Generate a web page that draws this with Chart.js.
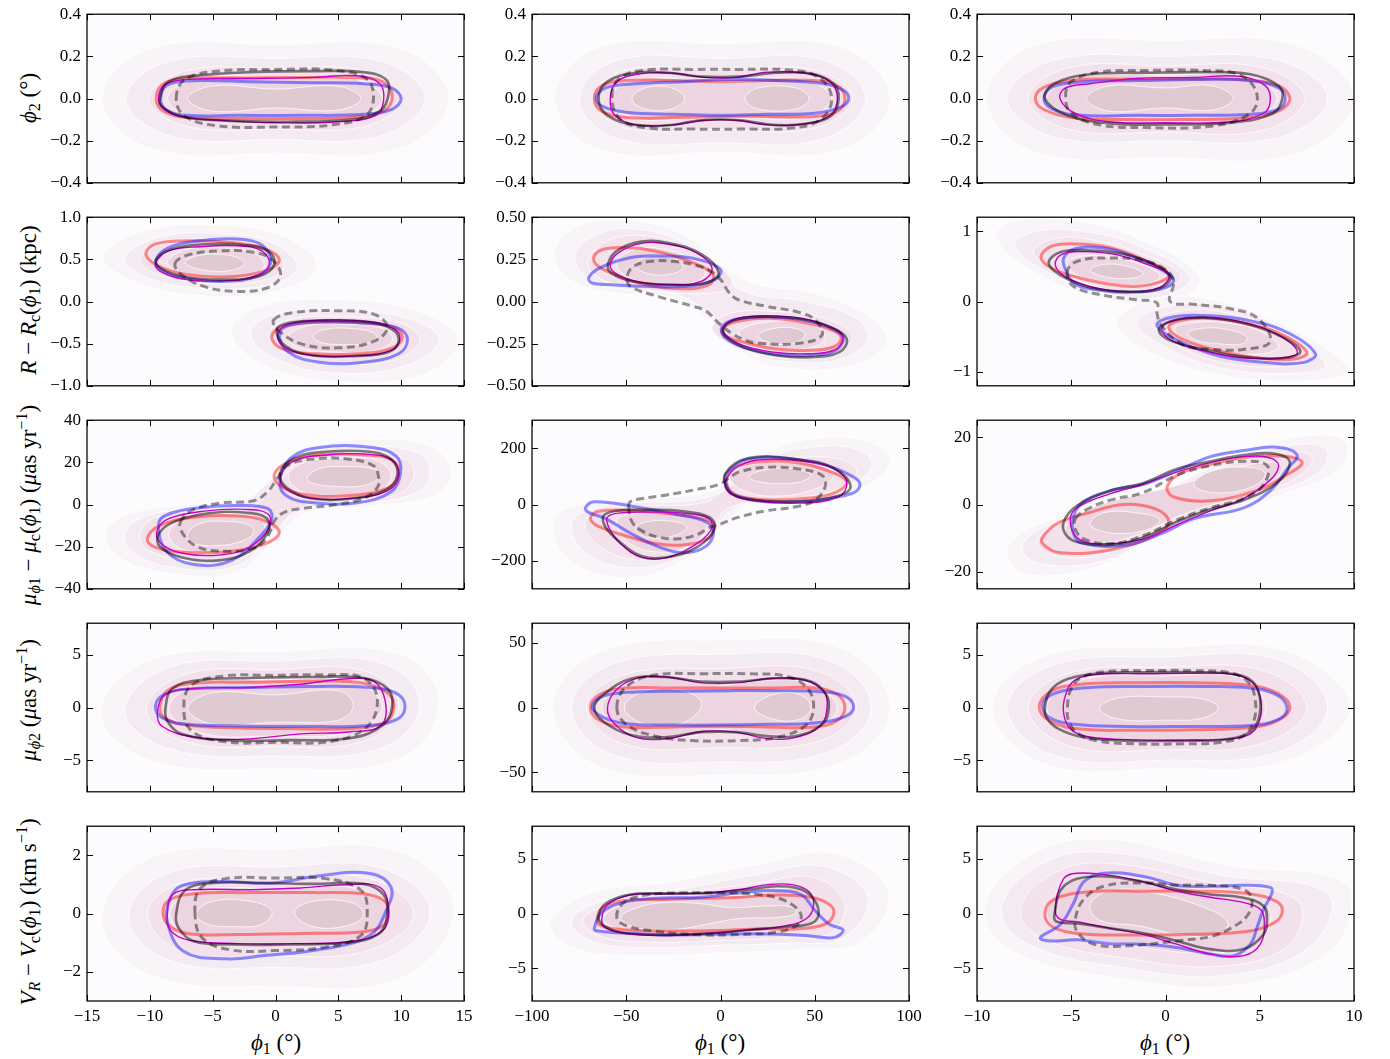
<!DOCTYPE html>
<html>
<head>
<meta charset="utf-8">
<script src="https://cdn.jsdelivr.net/npm/chart.js@4.4.0/dist/chart.umd.min.js"></script>
<style>
  body { margin: 0; width: 1390px; height: 1059px; position: relative; overflow: hidden; background: #fff;
         font-family: 'Liberation Serif', 'DejaVu Serif', serif; color: #000; }
  canvas { position: absolute; }
  .lab { position: absolute; font-size: 23px; white-space: nowrap; line-height: 1; }
  .ylab { transform: translate(-50%, -50%) rotate(-90deg); }
  .xlab { transform: translate(-50%, -50%); }
  .ann { position: absolute; font-size: 18px; white-space: nowrap; line-height: 1; transform: translateY(-50%); }
  sub, sup { font-size: 70%; line-height: 0; }
  sub { vertical-align: -0.3em; }
  sup { vertical-align: 0.55em; }
</style>
</head>
<body>

<div class="lab ylab" style="left:28px;top:98px"><i>ϕ</i><sub>2</sub> (°)</div>
<div class="lab ylab" style="left:28px;top:300px"><i>R</i> − <i>R</i><sub>c</sub>(<i>ϕ</i><sub>1</sub>) (kpc)</div>
<div class="lab ylab" style="left:28px;top:505px"><i>μ</i><sub><i>ϕ</i>1</sub> − <i>μ</i><sub>c</sub>(<i>ϕ</i><sub>1</sub>) (<i>μ</i>as yr<sup>−1</sup>)</div>
<div class="lab ylab" style="left:28px;top:700px"><i>μ</i><sub><i>ϕ</i>2</sub> (<i>μ</i>as yr<sup>−1</sup>)</div>
<div class="lab ylab" style="left:28px;top:912px"><i>V<sub>R</sub></i> − <i>V</i><sub>c</sub>(<i>ϕ</i><sub>1</sub>) (km s<sup>−1</sup>)</div>

<div class="lab xlab" style="left:276px;top:1042px"><i>ϕ</i><sub>1</sub> (°)</div>
<div class="lab xlab" style="left:720px;top:1042px"><i>ϕ</i><sub>1</sub> (°)</div>
<div class="lab xlab" style="left:1165px;top:1042px"><i>ϕ</i><sub>1</sub> (°)</div>

<div class="ann" style="left:106px;top:28px"><i>e</i> = 0</div>
<div class="ann" style="right:945px;top:28px">in-plane</div>
<div class="ann" style="left:551px;top:28px"><i>e</i> = 0.6 (pericenter)</div>
<div class="ann" style="right:500px;top:28px">in-plane</div>
<div class="ann" style="left:996px;top:28px"><i>e</i> = 0.6 (apocenter)</div>
<div class="ann" style="right:55px;top:28px">in-plane</div>

<script>
// ---- axis ticks ----
const xt_c1 = [-15, -10, -5, 0, 5, 10, 15];
const xt_c2 = [-100, -50, 0, 50, 100];
const xt_c3 = [-10, -5, 0, 5, 10];
const yt_r1 = [-0.4, -0.2, 0, 0.2, 0.4];
const yt_r2c1 = [-1, -0.5, 0, 0.5, 1];
const yt_r2c2 = [-0.5, -0.25, 0, 0.25, 0.5];
const yt_r2c3 = [-1, 0, 1];
const yt_r3c1 = [-40, -20, 0, 20, 40];
const yt_r3c2 = [-200, 0, 200];
const yt_r3c3 = [-20, 0, 20];
const yt_r4c1 = [-5, 0, 5];
const yt_r4c2 = [-50, 0, 50];
const yt_r4c3 = [-5, 0, 5];
const yt_r5c1 = [-2, 0, 2];
const yt_r5c2 = [-5, 0, 5];
const yt_r5c3 = [-5, 0, 5];

// ---- background density levels (outer -> inner), each level is a list of closed loops [x,y,x,y,...] ----
const bg_r1c1 = [
  [[-13.8,0, -10,0.235, 0,0.255, 10,0.235, 13.8,0, 10,-0.235, 0,-0.26, -10,-0.235]],
  [[-11.9,0, -8.5,0.175, 0,0.19, 8.5,0.175, 11.9,0, 8.5,-0.175, 0,-0.195, -8.5,-0.175]],
  [[-10.1,0, -7.2,0.13, 0,0.142, 7.2,0.13, 10.1,0, 7.2,-0.13, 0,-0.145, -7.2,-0.13]],
  [[-8.6,0, -6.2,0.095, 0,0.1, 6.2,0.095, 8.5,0, 6.2,-0.095, 0,-0.105, -6.2,-0.095]],
  [[-7,0, -5,0.06, 0,0.045, 5,0.058, 6.8,0, 5,-0.055, 0,-0.045, -5,-0.06]]
];
const bg_r2c1 = [
  [[-13.7,0.55, -10,0.85, -4,0.9, 1,0.75, 3.3,0.4, 0,0.12, -6,0.07, -11.5,0.25],
   [-3.5,-0.35, -1,-0.05, 5,0.02, 11,-0.1, 14.5,-0.45, 12,-0.85, 5,-0.95, -1,-0.75]],
  [[-12,0.52, -9,0.77, -4,0.8, 0,0.68, 1.7,0.4, -0.5,0.2, -6,0.16, -10.5,0.3],
   [-2,-0.38, 0,-0.15, 5,-0.1, 10.5,-0.2, 13,-0.45, 10.5,-0.75, 5,-0.85, 0,-0.68]],
  [[-10.8,0.5, -8.5,0.7, -4.5,0.73, -0.8,0.62, 0.7,0.42, -1,0.25, -5.5,0.22, -9.5,0.33],
   [-0.6,-0.4, 1,-0.22, 5,-0.18, 10,-0.26, 11.5,-0.45, 9.7,-0.68, 5,-0.74, 1,-0.62]],
  [[-8.6,0.48, -7,0.62, -4.5,0.64, -1.8,0.58, -0.9,0.42, -2.2,0.3, -5,0.28, -7.8,0.36],
   [1,-0.42, 2.5,-0.29, 5.5,-0.27, 8.5,-0.32, 9.3,-0.45, 8,-0.58, 5,-0.6, 2,-0.55]],
  [[-7.2,0.47, -6,0.55, -4.5,0.56, -3,0.52, -2.5,0.44, -3.5,0.37, -5,0.36, -6.5,0.4],
   [3,-0.41, 4,-0.33, 6,-0.32, 7.8,-0.37, 8,-0.44, 7,-0.5, 5,-0.51, 3.5,-0.48]]
];
const bg_r3c1 = [
  [[-13.5,-14, -12,-5, -7,0, -2.5,3, 0,13, 3,27, 8,31, 12.5,27, 14,15, 12.5,4, 7,-1, 2.5,-4, 0,-16, -3,-32, -8,-33, -12.5,-25]],
  [[-12,-14, -10.5,-6, -6.5,-1.5, -2.5,1, -0.7,10, 2.5,24, 7.5,27.5, 11.5,24, 12.3,14, 11,5, 6.5,0.5, 2,-3, -0.3,-14, -3,-29, -8,-30, -11.3,-23]],
  [[-10.8,-14, -9.5,-6, -6,-3, -2,-1.5, -0.2,8, 2.5,22, 7.5,24.5, 10.5,21, 11,13, 9.8,5, 6,1.5, 2,-1.5, 0,-12, -3,-25.5, -7.5,-26, -10.3,-21]],
  [[-8.5,-14, -7.3,-7, -4.5,-4.5, -1.8,-5.5, -0.8,-12, -2,-20, -4.5,-23, -7.5,-21],
   [1,13, 2.3,20, 5,22, 8,21, 9.2,14, 8.2,6, 5.5,3.5, 2.5,5]],
  [[-7,-14, -6,-9, -4,-8, -2,-10, -1.8,-14, -3,-18, -5,-19.5, -6.7,-18],
   [2.5,12.5, 3.5,17, 5.5,18, 8,16.5, 8.2,12.5, 7,9, 5,8.5, 3,10]]
];
const bg_r4c1 = [
  [[-13.9,-0.5, -10,4.5, 0,5.3, 10,5, 13,0.5, 10,-4.8, 0,-5.8, -10,-5]],
  [[-12,-0.3, -8.5,3.8, 0,4.4, 8.5,4.2, 11.5,0.3, 8.5,-3.8, 0,-4.6, -8.5,-3.9]],
  [[-10.3,-0.2, -7.3,3.1, 0,3.6, 7.3,3.4, 9.8,0.2, 7.3,-3.1, 0,-3.7, -7.3,-3.2]],
  [[-8.5,-0.1, -6,2.3, 0,2.6, 6,2.5, 8.5,0.1, 6,-2.3, 0,-2.7, -6,-2.4]],
  [[-7,-0.1, -5,1.4, 0,1.2, 5,1.6, 6.2,0.2, 5,-1.2, 0,-1.4, -5,-1.6]]
];
const bg_r5c1 = [
  [[-13.8,-0.2, -10,1.9, 0,2.2, 10,2.1, 14.2,0.1, 10,-2.2, 0,-2.5, -10,-2.1]],
  [[-11.7,-0.1, -8.5,1.4, 0,1.6, 8.5,1.55, 12.3,0.05, 8.5,-1.6, 0,-1.85, -8.5,-1.6]],
  [[-10.2,0, -7.5,1.05, 0,1.2, 7.5,1.2, 11,0, 7.5,-1.25, 0,-1.45, -7.5,-1.3]],
  [[-8.4,0, -6.3,0.78, 0,0.85, 6.5,0.85, 9,0, 6.5,-0.95, 0,-1.05, -6.3,-0.95]],
  [[-6.3,0, -5,0.42, -2,0.42, -0.3,0.1, -1,-0.35, -3,-0.45, -5.5,-0.35],
   [1.5,0.05, 3,0.42, 6,0.38, 7,0, 6,-0.38, 3,-0.45]]
];
const bg_r1c2 = [
  [[-88,0, -65,0.24, 0,0.26, 65,0.24, 90,0, 65,-0.24, 0,-0.255, -65,-0.24]],
  [[-75,0, -55,0.18, 0,0.19, 55,0.18, 77,0, 55,-0.19, 0,-0.21, -55,-0.19]],
  [[-68,0, -50,0.135, 0,0.135, 50,0.135, 70,0, 50,-0.14, 0,-0.145, -50,-0.14]],
  [[-59,0, -42,0.095, 0,0.075, 42,0.095, 59,0, 42,-0.095, 0,-0.075, -42,-0.1]],
  [[-47,0, -40,0.05, -26,0.05, -19,0, -26,-0.05, -40,-0.05],
   [13,0, 20,0.05, 40,0.05, 47,0, 40,-0.05, 20,-0.05]]
];
const bg_r2c2 = [
  [[-88,0.3, -75,0.45, -50,0.48, -20,0.4, 0,0.22, 20,0.1, 50,0.05, 80,-0.1, 88,-0.25, 70,-0.38, 40,-0.4, 15,-0.33, -5,-0.12, -25,0.02, -55,0.05, -80,0.13]],
  [[-77,0.28, -65,0.4, -45,0.43, -20,0.35, -2,0.17, 15,0.05, 45,0, 72,-0.1, 78,-0.23, 64,-0.34, 40,-0.36, 15,-0.3, -3,-0.1, -25,0.05, -55,0.08, -72,0.15]],
  [[-70,0.25, -60,0.36, -40,0.39, -20,0.33, 0,0.2, 6,0.1, -5,0.05, -30,0.06, -55,0.1, -68,0.17],
   [-4.5,-0.15, 5,-0.07, 30,-0.06, 55,-0.1, 70,-0.2, 62,-0.3, 40,-0.34, 15,-0.3, 0,-0.22]],
  [[-55,0.23, -45,0.31, -30,0.31, -15,0.25, -8,0.17, -15,0.11, -35,0.1, -50,0.15],
   [10,-0.18, 20,-0.13, 40,-0.12, 53,-0.16, 55,-0.23, 45,-0.28, 25,-0.28, 13,-0.24]],
  [[-45,0.22, -37,0.27, -25,0.26, -20,0.2, -28,0.16, -40,0.17],
   [20,-0.2, 28,-0.16, 40,-0.16, 45,-0.2, 38,-0.25, 25,-0.24]]
];
const bg_r3c2 = [
  [[-89,-70, -80,-10, -50,15, -20,30, 0,60, 20,170, 50,235, 80,220, 90,150, 75,60, 40,20, 15,0, 0,-80, -20,-200, -50,-260, -80,-200]],
  [[-79,-70, -70,-20, -45,5, -15,15, 3,55, 22,155, 50,205, 75,190, 80,130, 65,60, 35,20, 10,-5, -5,-90, -20,-185, -48,-225, -72,-170]],
  [[-72,-65, -62,-20, -40,-5, -10,5, 2,50, 20,140, 50,170, 68,150, 72,110, 60,50, 30,15, 5,-10, -5,-85, -18,-165, -45,-195, -65,-145]],
  [[-55,-60, -48,-35, -30,-30, -12,-45, -7,-80, -15,-140, -30,-170, -48,-140],
   [5,100, 15,140, 35,150, 55,135, 60,100, 50,55, 30,30, 12,50]],
  [[-45,-80, -38,-60, -25,-60, -18,-80, -24,-110, -35,-120, -43,-105],
   [15,100, 25,125, 40,125, 48,105, 42,80, 28,75, 18,85]]
];
const bg_r4c2 = [
  [[-89,0, -65,42, 0,52, 65,45, 90,0, 65,-42, 0,-52, -65,-45]],
  [[-79,0, -58,33, 0,41, 58,36, 80,0, 58,-34, 0,-42, -58,-36]],
  [[-71,0, -52,25, 0,30, 52,28, 72,0, 52,-26, 0,-31, -52,-28]],
  [[-63,0, -45,21, -15,22, 0,17, 15,20, 45,19, 62,0, 45,-19, 15,-20, 0,-17, -15,-22, -45,-21]],
  [[-51,0, -40,13, -20,13, -10,3, -20,-12, -40,-13],
   [18,0, 28,10, 42,10, 48,0, 42,-9, 28,-9]]
];
const bg_r5c2 = [
  [[-90,-0.8, -70,1.8, -30,2.8, 20,4.5, 60,5.5, 89,2, 75,-2.5, 40,-3.3, 0,-3.6, -50,-3.8, -80,-3]],
  [[-79,-0.6, -60,1.3, -25,2.1, 20,3.6, 55,4.3, 78,1.5, 65,-2.2, 35,-2.7, 0,-2.9, -45,-3.1, -70,-2.4]],
  [[-73,-0.5, -55,1, -25,1.75, 20,2.8, 50,3.3, 66,0.8, 58,-1.8, 35,-2.2, 0,-2.45, -40,-2.6, -65,-2]],
  [[-62,-0.4, -50,0.95, -25,1.45, 15,1.7, 42,2.3, 52,0.5, 45,-1.2, 25,-1.4, 0,-1.75, -35,-1.95, -55,-1.4]],
  [[-53,-0.4, -45,0.5, -30,1, -10,0.9, 5,0.55, 25,0.7, 38,0.6, 40,0, 30,-0.35, 10,-0.45, -5,-0.9, -25,-1.45, -45,-1.25]]
];
const bg_r1c3 = [
  [[-9.5,0, -7,0.25, 0,0.275, 7,0.25, 10,0, 7,-0.26, 0,-0.28, -7,-0.25]],
  [[-8.4,0, -6,0.18, 0,0.2, 6,0.18, 8.6,0, 6,-0.185, 0,-0.2, -6,-0.18]],
  [[-7.3,0, -5.2,0.145, 0,0.155, 5.2,0.145, 7.4,0, 5.2,-0.15, 0,-0.16, -5.2,-0.145]],
  [[-6.3,0, -4.5,0.105, 0,0.11, 4.3,0.105, 5.9,0, 4.3,-0.105, 0,-0.11, -4.5,-0.105]],
  [[-4.2,0, -3,0.06, 0,0.05, 2.5,0.06, 3.6,0, 2.5,-0.055, 0,-0.045, -3,-0.06]]
];
const bg_r2c3 = [
  [[-9,0.9, -8,1.15, -5,1.15, -1.5,0.9, 1.8,0.35, 0.5,0, -2.5,0, -6.5,0.35],
   [-2.6,-0.3, -1,0, 2,0.05, 6,-0.3, 9.7,-0.95, 8,-1.12, 3,-1.05, -1,-0.7]],
  [[-8,0.8, -6.8,1, -4.5,1, -1.5,0.8, 1.3,0.35, 0,0.08, -2.5,0.08, -6,0.38],
   [-1.5,-0.3, 0,-0.08, 2.5,-0.05, 6,-0.35, 8.5,-0.9, 7,-1.02, 3,-0.95, 0,-0.65]],
  [[-7,0.7, -5.8,0.9, -4,0.88, -1.5,0.7, 0.8,0.38, -0.2,0.15, -2.5,0.14, -5.3,0.38],
   [-0.7,-0.3, 0.5,-0.15, 2.5,-0.13, 5.5,-0.35, 7.8,-0.8, 6.5,-0.92, 3,-0.87, 0.5,-0.6]],
  [[-5.2,0.55, -4.3,0.65, -2.7,0.62, -1,0.5, -0.3,0.35, -1.2,0.24, -3,0.26, -4.7,0.38],
   [0.5,-0.38, 1.5,-0.3, 3,-0.3, 5,-0.42, 6,-0.65, 4.8,-0.75, 2.5,-0.7, 1,-0.55]],
  [[-4,0.45, -3.2,0.53, -2,0.5, -1.2,0.4, -1.8,0.33, -3.2,0.35],
   [1.2,-0.45, 2,-0.38, 3.3,-0.4, 4.3,-0.5, 4.1,-0.6, 2.8,-0.6, 1.6,-0.55]]
];
const bg_r3c3 = [
  [[-8.4,-14, -7.5,-8, -4,-1, 0,5, 3.5,14, 7,20, 9.5,19, 9.3,11, 6.5,3.5, 3,-2.5, -0.5,-10, -4,-19, -7.5,-20.5]],
  [[-7.6,-13, -6.6,-7, -3.8,-2, -0.5,3.5, 3,12, 6.5,17.5, 8.5,16.5, 8.2,10, 5.5,3, 2.5,-2.5, -0.5,-9.5, -3.5,-17, -6.7,-17.5]],
  [[-6.8,-11, -5.8,-6, -3.3,-1, 0,4.5, 3.5,12, 6.3,15.5, 7.8,14, 7,8, 4.5,2.5, 2,-2.5, -1,-9.5, -3.5,-15, -6,-15]],
  [[-5.3,-7, -4.5,-2.5, -2.5,1.5, 0.5,5.5, 3.5,10.5, 5.5,12.5, 6.2,11, 5.5,6.5, 3.5,1.8, 1,-2.8, -1.5,-9, -3.5,-11.5, -5,-10.5]],
  [[-4,-6, -3.3,-2.5, -1.5,-2.5, -0.3,-4.5, -1,-7.5, -2.8,-8.5],
   [1.5,6, 2.5,10, 4.5,11, 5.3,9, 4.5,5, 2.5,3.5]]
];
const bg_r4c3 = [
  [[-9.2,0, -6.5,4.8, 0,5.7, 6.5,5.3, 9.8,0, 6.5,-5, 0,-5.8, -6.5,-5.3]],
  [[-8.4,0, -6,4, 0,4.8, 6,4.5, 8.6,0, 6,-4.2, 0,-5, -6,-4.5]],
  [[-7.3,0, -5.2,3.2, 0,3.8, 5.2,3.5, 7.5,0, 5.2,-3.4, 0,-4, -5.2,-3.6]],
  [[-6.3,0, -4.5,2.6, 0,3, 4,2.8, 5.3,0, 4,-2.7, 0,-3.1, -4.5,-2.8]],
  [[-3.5,-0.1, -2.5,0.9, 0,1, 2,0.8, 2.8,0, 2,-1, 0,-1.2, -2.5,-1.1]]
];
const bg_r5c3 = [
  [[-9.6,0.5, -7,5.5, -3,6.8, 3,4.5, 9.8,2.5, 9,-3, 4,-6.5, -2,-6, -8,-3.5]],
  [[-8.7,0.5, -6.5,4.6, -3,5.6, 3,3.5, 8.6,1.8, 7.8,-2.8, 3.5,-5.6, -2,-5, -7.3,-2.8]],
  [[-7.7,0.4, -5.8,3.8, -3,4.6, 2.5,2.8, 7,1.2, 6.6,-2.8, 3,-4.8, -2,-4.1, -6.5,-2.3]],
  [[-6.3,0.3, -5,3, -2.5,3.4, 2,2.1, 5.4,0.6, 5,-2.5, 2.5,-3.6, -2,-2.9, -5.5,-1.6]],
  [[-4,0.8, -3,2.1, -1,2, 2,0.6, 3.3,-0.8, 2.8,-1.9, 1,-2, -1.5,-1.1, -3.5,-0.6]]
];

// ---- model contours (each a list of closed loops) ----
// row 1: phi2
const red_r1c1 = [[-9.5,0, -8.9,0.07, -7,0.095, -3,0.097, 2,0.1, 6,0.1, 8.5,0.08, 9.3,0.01, 8.6,-0.06, 6,-0.09, 2,-0.095, -3,-0.095, -7,-0.09, -8.9,-0.06]];
const blue_r1c1 = [[-9.1,0.02, -8.4,0.07, -6,0.085, -2,0.08, 3,0.075, 7,0.07, 9.2,0.05, 10,0, 9.3,-0.05, 7,-0.075, 2,-0.08, -3,-0.08, -7,-0.08, -8.8,-0.05]];
const mag_r1c1 = [[-9.3,0.01, -8.7,0.07, -6.5,0.092, -2,0.095, 3,0.1, 6.5,0.108, 8.3,0.07, 8.6,-0.01, 8,-0.08, 5,-0.11, 0,-0.115, -4,-0.105, -7.5,-0.085, -9,-0.04]];
const blk_r1c1 = [[-9.2,0, -8.5,0.08, -6,0.11, -2,0.125, 3,0.13, 7,0.125, 8.8,0.09, 9,0.02, 8.3,-0.06, 6,-0.1, 1,-0.11, -4,-0.105, -7.5,-0.085, -9,-0.04]];
const dash_r1c1 = [[-7.9,0, -7.2,0.09, -4.5,0.13, 0,0.138, 4.5,0.135, 7.2,0.095, 7.8,0.01, 7.2,-0.08, 4.5,-0.125, 0,-0.135, -4.5,-0.13, -7.2,-0.085]];

const red_r1c2 = [[-67,0, -63,0.06, -50,0.085, -25,0.085, 0,0.08, 25,0.085, 50,0.085, 62,0.06, 66,0, 62,-0.06, 50,-0.085, 25,-0.085, 0,-0.085, -25,-0.09, -50,-0.09, -63,-0.06]];
const blue_r1c2 = [[-66,0, -61,0.05, -45,0.07, -20,0.08, 5,0.09, 30,0.085, 55,0.07, 65,0.04, 68,0, 64,-0.04, 50,-0.07, 25,-0.075, 0,-0.08, -25,-0.075, -50,-0.065, -62,-0.04]];
const mag_r1c2 = [[-58.5,0, -55,0.08, -42,0.118, -25,0.12, -8,0.1, 8,0.1, 25,0.125, 45,0.12, 58,0.08, 62,0, 58,-0.08, 45,-0.12, 25,-0.125, 8,-0.103, -8,-0.103, -25,-0.125, -45,-0.125, -56,-0.08]];
const blk_r1c2 = [[-64.7,0, -60,0.08, -45,0.122, -28,0.122, -10,0.104, 10,0.104, 30,0.122, 48,0.118, 60,0.07, 62.7,0, 59,-0.08, 45,-0.12, 28,-0.125, 10,-0.103, -10,-0.103, -28,-0.127, -45,-0.125, -60,-0.08]];
const dash_r1c2 = [[-57.6,0.01, -53,0.1, -38,0.136, -15,0.138, 10,0.138, 35,0.136, 52,0.1, 59,0, 53,-0.1, 38,-0.14, 10,-0.145, -15,-0.145, -38,-0.14, -53,-0.1]];

const red_r1c3 = [[-6.9,0, -6.5,0.05, -5,0.085, -2,0.092, 1,0.092, 4,0.09, 6,0.06, 6.6,0, 6.1,-0.055, 4.5,-0.09, 1,-0.1, -2,-0.1, -5,-0.09, -6.5,-0.05]];
const blue_r1c3 = [[-6.45,0, -6,0.055, -4.5,0.078, -1.5,0.085, 1.5,0.09, 4.5,0.085, 6,0.05, 6.35,0, 6,-0.05, 4.5,-0.075, 1.5,-0.08, -1.5,-0.08, -4.5,-0.08, -6,-0.05]];
const mag_r1c3 = [[-5.6,0, -5.3,0.05, -4,0.07, -1.5,0.095, 1.5,0.1, 4,0.105, 5.3,0.06, 5.56,-0.01, 5.2,-0.07, 3.5,-0.11, 0,-0.115, -3,-0.11, -4.8,-0.07]];
const blk_r1c3 = [[-6.4,0, -5.9,0.07, -4,0.115, -1,0.122, 2,0.125, 4.5,0.115, 6,0.06, 6.2,0, 5.7,-0.07, 3.5,-0.115, 0,-0.123, -3,-0.118, -5.2,-0.08]];
const dash_r1c3 = [[-5.3,0.01, -5,0.08, -3.5,0.125, -1,0.133, 2,0.133, 4,0.11, 4.85,0.02, 4.5,-0.07, 2.5,-0.13, -1,-0.138, -3.5,-0.125, -5,-0.07]];

// row 2: R - Rc
const red_r2c1 = [[-10.3,0.55, -9.6,0.68, -7,0.72, -3.5,0.7, -0.8,0.62, 0.3,0.5, -0.5,0.38, -3,0.3, -6.5,0.31, -9,0.4],
                  [-0.3,-0.42, 0.5,-0.3, 3,-0.25, 6.5,-0.25, 9.3,-0.3, 10.1,-0.42, 9.3,-0.55, 6.5,-0.62, 3,-0.62, 0.5,-0.56]];
const blue_r2c1 = [[-9.55,0.48, -8.5,0.64, -6,0.72, -3,0.74, -1,0.66, -0.4,0.45, -1.5,0.3, -4,0.24, -7,0.27, -9,0.36],
                   [0.3,-0.38, 1.2,-0.28, 4,-0.24, 7.5,-0.26, 9.8,-0.32, 10.5,-0.45, 9.8,-0.62, 7,-0.72, 3.5,-0.72, 1,-0.6]];
const mag_r2c1 = [[-9.55,0.45, -8.5,0.6, -6,0.65, -3,0.66, -1.1,0.6, -0.5,0.44, -1.6,0.3, -4.5,0.24, -7.5,0.27, -9.2,0.36],
                  [0.15,-0.4, 1,-0.27, 4,-0.22, 7.5,-0.24, 9.4,-0.32, 9.9,-0.45, 9.2,-0.58, 6.5,-0.645, 3,-0.64, 0.8,-0.55]];
const blk_r2c1 = [[-9.5,0.5, -8.3,0.62, -5.5,0.68, -2.5,0.67, -0.6,0.6, -0.1,0.44, -1.3,0.3, -4.5,0.26, -7.5,0.3, -9.2,0.4],
                  [0.1,-0.33, 1.2,-0.25, 4,-0.225, 7.5,-0.245, 9.3,-0.33, 9.8,-0.47, 9,-0.6, 6.5,-0.645, 3,-0.64, 0.8,-0.53]];
const dash_r2c1 = [[-8,0.45, -7,0.55, -4.5,0.6, -2,0.59, -0.3,0.5, 0.4,0.3, -0.7,0.16, -3,0.12, -5.5,0.17, -7.5,0.32],
                   [-0.15,-0.22, 1.5,-0.13, 5,-0.11, 7.8,-0.15, 8.9,-0.3, 8,-0.46, 5,-0.55, 2,-0.5, 0.3,-0.35]];

const red_r2c2 = [[-67,0.27, -62,0.31, -50,0.32, -35,0.3, -17,0.24, -4,0.16, -6,0.1, -20,0.075, -40,0.1, -58,0.17, -66,0.22],
                  [1,-0.16, 8,-0.12, 25,-0.1, 42,-0.12, 57,-0.16, 64,-0.21, 60,-0.27, 45,-0.29, 28,-0.28, 12,-0.24, 2,-0.2]];
const blue_r2c2 = [[-70,0.14, -64,0.2, -48,0.26, -30,0.27, -12,0.25, 0,0.19, -3,0.13, -18,0.09, -40,0.09, -58,0.1, -68,0.11],
                   [0.8,-0.15, 8,-0.105, 25,-0.09, 42,-0.105, 57,-0.15, 65,-0.21, 61,-0.29, 45,-0.32, 28,-0.31, 12,-0.27, 2,-0.21]];
const mag_r2c2 = [[-58.5,0.22, -54,0.29, -42,0.345, -28,0.34, -13,0.29, -4.5,0.2, -10,0.12, -28,0.1, -45,0.12, -56,0.17],
                  [1.5,-0.15, 9,-0.1, 26,-0.085, 43,-0.1, 58,-0.15, 65,-0.21, 61,-0.285, 46,-0.31, 28,-0.3, 12,-0.26, 3,-0.2]];
const blk_r2c2 = [[-59.7,0.22, -55,0.3, -42,0.355, -27,0.345, -10,0.28, -1,0.17, -8,0.11, -28,0.1, -47,0.12, -58,0.17],
                  [1.7,-0.155, 9,-0.105, 26,-0.09, 44,-0.105, 59,-0.155, 67,-0.225, 63,-0.3, 48,-0.33, 30,-0.32, 13,-0.275, 3,-0.21]];
const dash_r2c2 = [[-49.6,0.13, -47,0.084, -32.8,0.029, -15.1,-0.027, -8,-0.054, -1,-0.128, 6.1,-0.19, 13.2,-0.23, 20.2,-0.248, 41.5,-0.248, 53.8,-0.2, 50.3,-0.11, 41.5,-0.064, 23.8,-0.027, 9.6,0.01, 4.3,0.056, 0.8,0.12, -4.5,0.176, -11.6,0.21, -24,0.237, -38.1,0.237, -47,0.2]];

const red_r2c3 = [[-6.6,0.62, -6.1,0.78, -4.8,0.82, -3,0.77, -1.2,0.6, 0.17,0.38, -0.8,0.24, -2.5,0.23, -4.5,0.33, -6,0.47],
                  [0.17,-0.37, 0.8,-0.27, 2.2,-0.24, 4,-0.3, 6,-0.45, 7.5,-0.72, 6.8,-0.82, 4.8,-0.8, 2.8,-0.7, 1,-0.55]];
const blue_r2c3 = [[-5.4,0.62, -4.8,0.75, -3.3,0.76, -1.8,0.65, -0.2,0.45, 0.43,0.3, -0.2,0.18, -1.8,0.13, -3.5,0.16, -4.8,0.25, -5.3,0.45],
                   [-0.45,-0.33, 0.4,-0.22, 2,-0.2, 4,-0.25, 6.3,-0.42, 7.95,-0.74, 7.3,-0.87, 5,-0.86, 2.5,-0.75, 0.4,-0.52]];
const mag_r2c3 = [[-5.85,0.52, -5.5,0.67, -4.3,0.71, -2.5,0.66, -0.9,0.52, 0.17,0.38, -0.3,0.2, -2,0.14, -3.8,0.2, -5.3,0.35],
                  [-0.2,-0.38, 0.6,-0.26, 2.2,-0.23, 4.2,-0.3, 6,-0.48, 7,-0.72, 6.2,-0.8, 4,-0.8, 2,-0.7, 0.3,-0.55]];
const blk_r2c3 = [[-6.2,0.55, -5.6,0.7, -4.2,0.73, -2.3,0.68, -0.7,0.54, 0.25,0.35, -0.3,0.19, -2,0.14, -4,0.2, -5.6,0.38],
                  [-0.35,-0.4, 0.4,-0.27, 2,-0.23, 4,-0.3, 6,-0.48, 7.15,-0.7, 6.5,-0.8, 4.3,-0.79, 2,-0.68, 0.2,-0.55]];
const dash_r2c3 = [[-5.2,0.44, -4.9,0.22, -3.3,0.09, -1.5,0.025, -0.45,-0.02, -0.45,-0.17, -0.2,-0.35, 0.97,-0.62, 2.4,-0.68, 4.2,-0.68, 5.55,-0.57, 4.9,-0.24, 3.4,-0.1, 1.5,-0.04, 0.25,0, 0.43,0.27, 0.08,0.44, -1.15,0.58, -3,0.62, -4.6,0.58]];

// row 3: mu_phi1
const red_r3c1 = [[-10.2,-16, -9.2,-10, -6.5,-6, -3,-5.5, -0.7,-8, 0.3,-13.5, -1,-19, -4,-22.5, -7.5,-22.5, -9.7,-20],
                  [-0.1,14, 1,20, 3.5,23.5, 7,23.5, 9.3,21, 9.8,14, 9,8, 6.5,4.5, 3,4.2, 0.6,8]];
const blue_r3c1 = [[-9.3,-9, -8.5,-4.5, -6,-1.5, -3,-0.5, -0.6,-2, -0.3,-7, -1.2,-15, -3.5,-26.5, -6.5,-28.5, -8.7,-22],
                   [0.35,11, 1.2,22, 3.5,27, 7.5,27.2, 9.6,23, 9.95,15, 9.2,6, 6.5,0.8, 3,0.8, 0.9,4]];
const mag_r3c1 = [[-9.4,-12, -8.4,-6.5, -5.5,-3, -2.5,-2.3, -0.6,-4.5, -0.5,-11, -2,-20, -4.5,-24, -7.5,-23, -9.2,-18],
                  [0.4,13, 1.4,20.5, 4,23.5, 7.5,23.8, 9.4,20.5, 9.8,13, 8.9,6.5, 6.2,3, 2.8,3, 0.9,7]];
const blk_r3c1 = [[-9.3,-14, -8,-8, -5,-4, -2.5,-3.8, -0.7,-6.5, -0.6,-13, -2,-22, -4.5,-26.5, -7.5,-25, -9.2,-20],
                  [0.35,14.7, 1.5,22, 4,25, 7.5,25, 9.2,21.5, 9.7,14, 8.8,7, 6.2,3, 2.8,3, 0.9,8]];
const dash_r3c1 = [[-7.43,-6.7, -7.56,-11.9, -6.23,-20, -3.85,-22.2, -1.72,-20.7, -0.66,-15.6, -0.13,-8.2, 0.66,-3.8, 2.25,-1.8, 4.9,0, 7,2.9, 8.1,8, 8.2,13.2, 7.8,18.4, 5.7,21.6, 3.05,21.6, 0.93,18.4, 0,11, -0.66,5.8, -1.72,1.8, -4.4,0.7, -6.5,-2.3]];

const red_r3c2 = [[-69,-48, -64.7,-24, -47,-22, -20,-38, -5,-60, -3.6,-80, -6.3,-120, -20,-144, -35,-138, -47,-118, -64.7,-78],
                  [3.4,93, 9.6,137, 27,154, 42,148, 55,125, 67,82, 60,40, 45,22, 28,16, 11.4,27, 5.2,49]];
const blue_r3c2 = [[-71.7,-12, -67,10, -47,-6, -20,-39, -8,-61, -3.6,-94, -8,-150, -20,-172, -33,-150, -47,-105, -61,-50, -70,-28],
                   [2.6,104, 8,140, 15,162, 32.6,166, 55.6,140, 70,100, 74,71, 70,40, 50,16, 23.8,10, 6,38, 3,71]];
const mag_r3c2 = [[-60,-45, -53,-30, -38,-27, -18,-32, -6,-50, -5,-90, -15,-150, -29,-190, -42,-188, -53,-140, -59,-85],
                  [2.6,82, 9.6,137, 23.8,160, 50,148, 62,120, 67,77, 62.7,27, 41.5,5, 15,16, 4.3,44]];
const blk_r3c2 = [[-62,-40, -55,-22, -40,-19, -20,-24, -6,-45, -3,-85, -12,-150, -27,-186, -42,-183, -54,-130, -61,-80],
                  [2.6,110, 15,165, 41.5,160, 60,130, 69,66, 62,30, 41.5,10.5, 13,21.5, 4.3,49]];
const dash_r3c2 = [[-48.7,-6, -47,-61, -41.6,-94, -32.8,-116, -22.2,-122, -11.6,-105, -6.3,-83, -1,-72, 9.6,-45, 23.8,-23, 41.5,-6, 50.3,16, 55.6,66, 53.8,104, 41.5,126, 23.8,132, 9.6,115, 4.3,93, -1,71, -11.6,55, -29.3,33, -41.6,21, -47.8,10]];

const red_r3c3 = [[-6.55,-10, -5.7,-5.5, -4.1,-2.5, -2.2,0, -0.5,-1.4, 0.17,-5, -0.45,-8.8, -2.9,-13.4, -5.6,-14.3, -6.45,-12],
                  [0.1,5.5, 0.9,9.5, 2.5,12, 4.3,14, 6.3,14.3, 7.25,12.4, 6.4,8.7, 5,4.5, 2.4,1.1, 0.4,2.3]];
const blue_r3c3 = [[-4.87,-8.8, -4.34,-11.6, -2.04,-12, -0.1,-8.3, 1.5,-4.2, 4.15,-1, 5.56,4.1, 6.45,10.5, 6.98,14.7, 5.9,17, 4.15,16, 2.38,14.2, 0.6,10, -1.16,6, -2.93,4.1, -4.34,0.9, -4.87,-3.3]];
const mag_r3c3 = [[-5.04,-6, -4.78,-1.4, -2.93,3.2, -1.16,6, 0.6,9.6, 2.38,12.4, 4.15,14.2, 5.56,13.8, 6,11.5, 5.56,7.3, 4.15,1.8, 2.38,-1.9, 0.6,-6, -1.16,-10.2, -2.93,-11.6, -4.5,-10.6]];
const blk_r3c3 = [[-5.4,-5.1, -4.7,-0.4, -2.93,4.1, -1.16,6.4, 0.6,10.5, 2.38,12.8, 4.15,14.7, 5.9,15, 6.6,12.4, 5.9,6.4, 4.15,1.3, 2.38,-1.4, 0.6,-5.1, -1.16,-9.7, -2.93,-12, -4.7,-11.1, -5.3,-8.8]];
const dash_r3c3 = [[-4.78,-4.2, -4.16,-1.4, -2.93,1.3, -1.16,3.6, 0.6,8.7, 2.38,11.5, 4.15,12.8, 5.4,11.5, 5.2,5.9, 4.15,1.8, 2.38,-1, 0.6,-4.6, -1.16,-9.2, -2.93,-11.6, -4.34,-10.2, -4.78,-7.4]];

// row 4: mu_phi2
const red_r4c1 = [[-9.2,0.1, -8.6,1.6, -6.5,2.3, -2,2.4, 3,2.5, 7,2.3, 9,1.3, 9.4,-0.1, 8.7,-1.4, 6,-2, 1,-2, -4,-1.9, -7.5,-1.6, -8.9,-0.9]];
const blue_r4c1 = [[-9.55,0.1, -8.9,1.2, -7,1.75, -2,1.9, 3,2, 8,1.85, 9.8,1.2, 10.3,0, 9.7,-1.1, 7.5,-1.7, 2,-1.8, -3,-1.75, -7,-1.6, -9,-1]];
const mag_r4c1 = [[-9.4,-0.5, -8.8,1.2, -6.5,1.8, -2,1.9, 2,2.2, 5.5,2.7, 7.8,2.5, 8.75,0.5, 8.4,-1.7, 6,-2.3, 2,-2.5, -2.5,-3, -6.5,-2.8, -9,-1.8]];
const blk_r4c1 = [[-8.75,0, -8.2,1.8, -6,2.6, -2,2.8, 3,2.9, 7,2.8, 8.9,1.8, 9.3,0.2, 8.6,-1.6, 6,-2.9, 1,-3.1, -4,-3.1, -7.5,-2.5, -8.6,-1.3]];
const dash_r4c1 = [[-7.3,0, -6.7,2.1, -4,3, 0,3.05, 4,3.1, 7,2.8, 8.1,0.8, 7.3,-1.8, 4.5,-3.2, 0,-3.3, -4,-3.25, -6.7,-2.2]];

const red_r4c2 = [[-69,0, -64,10, -50,15, -25,15, 0,15, 25,15, 50,15, 62,10, 66,0, 62,-10, 50,-15, 25,-15, 0,-14.5, -25,-15, -50,-15, -64,-10]];
const blue_r4c2 = [[-68,1, -62,9, -45,12, -20,12.5, 5,13, 30,13, 55,12, 67,8, 70.6,0, 66,-7, 50,-12, 25,-13, 0,-13.5, -25,-13.5, -50,-12.5, -63,-7]];
const mag_r4c2 = [[-60,-1, -55,14, -43,23, -28,23.5, -10,19, 8,19, 28,22.5, 45,21, 55,12, 56.5,0, 53,-14, 40,-23, 25,-24, 8,-19, -10,-18.5, -28,-24, -45,-23, -56,-13]];
const blk_r4c2 = [[-67,0, -62,10, -48,22, -30,23.5, -10,20, 10,20, 30,22.5, 48,20, 56,10, 57.4,-1, 54,-13, 40,-22, 25,-22, 8,-19, -10,-19, -30,-23, -48,-21, -62,-11]];
const dash_r4c2 = [[-55,0, -50,16, -35,25, -10,26, 15,26, 35,24, 46,15, 49.4,0, 45,-14, 30,-23, 10,-25.5, -15,-25.5, -35,-22, -50,-13]];

const red_r4c3 = [[-6.7,0.1, -6,1.6, -4.5,2.2, -1.5,2.35, 1.5,2.35, 4.5,2.1, 6,1.3, 6.6,0, 6,-1.2, 4.5,-1.9, 1.5,-2.1, -1.5,-2.15, -4.5,-2.05, -6.1,-1.3]];
const blue_r4c3 = [[-6.5,0.4, -5.8,1.4, -4,1.9, -1,2, 2,2, 4.5,1.85, 6,1.1, 6.45,-0.2, 5.9,-1.2, 4.5,-1.7, 1,-1.8, -2,-1.8, -4.8,-1.6, -6.2,-0.9]];
const mag_r4c3 = [[-5.4,-0.6, -5.3,1.2, -4.8,2.6, -3.5,3.15, -1,3.2, 1.5,3.25, 3.5,3.15, 4.6,2.4, 5.05,0.8, 5,-1.2, 4.5,-2.5, 3.3,-3, 1,-3.1, -2,-3.05, -4,-2.8, -5,-2.1]];
const blk_r4c3 = [[-6.4,0, -6.1,1.6, -5.2,2.7, -3.5,3.25, -1,3.35, 1.5,3.35, 3.5,3.2, 4.6,2.5, 5,1, 4.95,-1, 4.5,-2.3, 3.3,-3, 1,-3.15, -2,-3.15, -4.3,-2.85, -5.7,-2, -6.3,-1]];
const dash_r4c3 = [[-5.2,0, -5.05,1.6, -4.5,2.8, -3.2,3.4, -1,3.5, 1.5,3.5, 3.4,3.3, 4.4,2.4, 4.75,0.8, 4.7,-1.2, 4.2,-2.6, 3,-3.3, 1,-3.45, -1.5,-3.45, -3.5,-3.2, -4.7,-2.4, -5.15,-1.2]];

// row 5: V_R
const red_r5c1 = [[-8.95,0.05, -8.5,0.45, -6.5,0.68, -2,0.72, 3,0.72, 7,0.68, 8.6,0.45, 9,0.05, 8.6,-0.4, 7,-0.62, 2,-0.68, -3,-0.72, -7,-0.68, -8.5,-0.4]];
const blue_r5c1 = [[-8.6,-0.3, -8.4,0.5, -7.5,0.95, -4.5,1.1, -0.2,1.05, 3.5,1.3, 7.5,1.38, 9.2,0.9, 8.8,0.1, 7.5,-0.75, 4,-1.2, -1,-1.45, -4,-1.55, -7.3,-1.3]];
const mag_r5c1 = [[-8.6,0, -8.2,0.65, -6.5,0.82, -2,0.82, 2,0.88, 5.5,0.99, 8.3,0.9, 9,0.1, 8.5,-0.6, 6,-0.95, 2,-1.03, -3,-1.03, -7,-0.9, -8.4,-0.55]];
const blk_r5c1 = [[-7.9,0, -7.2,0.8, -5,1.05, -1,1.05, 3,1.02, 7,1.02, 8.6,0.65, 8.9,0, 8.2,-0.7, 5.5,-1, 1,-1.06, -3.5,-1.06, -6.5,-0.95, -7.7,-0.5]];
const dash_r5c1 = [[-6.4,0, -6,0.85, -4,1.2, 0,1.22, 4,1.2, 6.8,0.8, 7.3,0.05, 6.8,-0.75, 4,-1.15, 0,-1.27, -3.5,-1.25, -5.8,-0.85]];

const red_r5c2 = [[-65.5,-0.7, -62,0.6, -50,1.2, -30,1.3, -10,1.4, 10,1.5, 30,1.7, 48,1.5, 58,0.8, 60,-0.1, 55,-1, 40,-1.4, 20,-1.4, 0,-1.55, -25,-1.6, -50,-1.5, -62,-1.2]];
const blue_r5c2 = [[-67,-1.4, -63,0.1, -52,1, -35,1.4, -10,1.5, 10,1.9, 30,2.1, 43,1.7, 50,0.3, 58,-1, 65,-1.5, 60,-2.2, 45,-2, 20,-1.85, -5,-1.9, -30,-1.95, -55,-1.75, -65,-1.6]];
const mag_r5c2 = [[-63,-0.5, -60,0.8, -48,1.7, -30,1.8, -10,1.85, 10,2.2, 25,2.65, 38,2.65, 47,2, 49.4,0.8, 46,-0.4, 35,-1.1, 15,-1.5, -5,-1.8, -30,-2, -50,-1.8, -61,-1.3]];
const blk_r5c2 = [[-64.7,-0.3, -61,0.9, -48,1.75, -28,1.85, -5,1.9, 15,2.2, 30,2.5, 43,2.2, 50,1.2, 52,-0.1, 48,-0.9, 35,-1.2, 15,-1.5, -5,-1.8, -30,-1.95, -52,-1.75, -62,-1.1]];
const dash_r5c2 = [[-55,-0.4, -52,0.9, -40,1.7, -20,1.9, 0,1.9, 20,1.75, 34,1.2, 42.5,0, 41,-1, 30,-1.7, 10,-1.9, -10,-1.95, -35,-1.6, -50,-1.1]];

const red_r5c3 = [[-6.4,0, -5.9,1.3, -4,2, -1,2.05, 2,2.05, 4.5,1.8, 5.9,1.1, 6.2,0.2, 5.8,-0.8, 4.5,-1.6, 1.5,-1.9, -1.5,-1.95, -4.5,-1.85, -6,-1.2]];
const blue_r5c3 = [[-6.64,-2.2, -5.58,-1, -4.87,1, -4.34,2.9, -3.28,3.7, -1.16,3.4, 0.6,2.6, 2.38,2.5, 4.15,2.6, 5.56,2.4, 5.65,1.9, 5.2,0.4, 4.85,-1.3, 4.5,-2.8, 3.62,-3.85, 2.38,-3.7, 0.6,-3.1, -1.16,-2.8, -2.93,-2.75, -4.69,-2.4, -6.1,-2.5]];
const mag_r5c3 = [[-5.85,0.4, -5.4,3.2, -4.69,3.7, -2.93,3.5, -1.16,2.9, 0.6,2.05, 2.38,1.5, 4.15,1, 5.03,0.4, 5.24,-0.75, 5.03,-2.8, 4.15,-3.85, 2.38,-3.7, 0.6,-2.8, -1.16,-1.93, -2.93,-1.35, -4.69,-0.75, -5.6,-0.5]];
const blk_r5c3 = [[-5.9,-0.2, -5.4,2.5, -3.81,3.4, -1.16,2.9, 0.6,2.2, 2.38,1.75, 4.15,1.46, 5.2,0.7, 5.38,-0.45, 5.2,-1.9, 4.15,-3.25, 2.38,-3.25, 0.6,-2.5, -1.16,-1.8, -2.93,-1.35, -4.69,-0.9, -5.76,-0.75]];
const dash_r5c3 = [[-4.78,-0.45, -4.34,1.3, -3.28,2.5, -1.16,2.8, 0.6,2.6, 2.38,2.6, 4.15,2.2, 4.59,1.3, 4.33,-0.2, 3.44,-1.35, 2.38,-2.1, 0.6,-2.5, -2.04,-2.95, -3.81,-2.8, -4.69,-1.65]];

// ---- layout ----
const colLeft = [87, 532, 977];
const rowTop = [8, 211, 414, 617, 820];
const plotW = 377, plotH = 181;
const xRanges = [[-15, 15], [-100, 100], [-10, 10]];
const xTicks = [xt_c1, xt_c2, xt_c3];

const panels = [
  {r:0, c:0, yr:[-0.4,0.4], yt:yt_r1, yd:1, bg:bg_r1c1, red:red_r1c1, blue:blue_r1c1, mag:mag_r1c1, blk:blk_r1c1, dash:dash_r1c1},
  {r:0, c:1, yr:[-0.4,0.4], yt:yt_r1, yd:1, bg:bg_r1c2, red:red_r1c2, blue:blue_r1c2, mag:mag_r1c2, blk:blk_r1c2, dash:dash_r1c2},
  {r:0, c:2, yr:[-0.4,0.4], yt:yt_r1, yd:1, bg:bg_r1c3, red:red_r1c3, blue:blue_r1c3, mag:mag_r1c3, blk:blk_r1c3, dash:dash_r1c3},
  {r:1, c:0, yr:[-1,1], yt:yt_r2c1, yd:1, bg:bg_r2c1, red:red_r2c1, blue:blue_r2c1, mag:mag_r2c1, blk:blk_r2c1, dash:dash_r2c1},
  {r:1, c:1, yr:[-0.5,0.5], yt:yt_r2c2, yd:2, bg:bg_r2c2, red:red_r2c2, blue:blue_r2c2, mag:mag_r2c2, blk:blk_r2c2, dash:dash_r2c2},
  {r:1, c:2, yr:[-1.2,1.2], yt:yt_r2c3, yd:0, bg:bg_r2c3, red:red_r2c3, blue:blue_r2c3, mag:mag_r2c3, blk:blk_r2c3, dash:dash_r2c3},
  {r:2, c:0, yr:[-40,40], yt:yt_r3c1, yd:0, bg:bg_r3c1, red:red_r3c1, blue:blue_r3c1, mag:mag_r3c1, blk:blk_r3c1, dash:dash_r3c1},
  {r:2, c:1, yr:[-300,300], yt:yt_r3c2, yd:0, bg:bg_r3c2, red:red_r3c2, blue:blue_r3c2, mag:mag_r3c2, blk:blk_r3c2, dash:dash_r3c2},
  {r:2, c:2, yr:[-25,25], yt:yt_r3c3, yd:0, bg:bg_r3c3, red:red_r3c3, blue:blue_r3c3, mag:mag_r3c3, blk:blk_r3c3, dash:dash_r3c3},
  {r:3, c:0, yr:[-8,8], yt:yt_r4c1, yd:0, bg:bg_r4c1, red:red_r4c1, blue:blue_r4c1, mag:mag_r4c1, blk:blk_r4c1, dash:dash_r4c1},
  {r:3, c:1, yr:[-65,65], yt:yt_r4c2, yd:0, bg:bg_r4c2, red:red_r4c2, blue:blue_r4c2, mag:mag_r4c2, blk:blk_r4c2, dash:dash_r4c2},
  {r:3, c:2, yr:[-8,8], yt:yt_r4c3, yd:0, bg:bg_r4c3, red:red_r4c3, blue:blue_r4c3, mag:mag_r4c3, blk:blk_r4c3, dash:dash_r4c3},
  {r:4, c:0, yr:[-3,3], yt:yt_r5c1, yd:0, bg:bg_r5c1, red:red_r5c1, blue:blue_r5c1, mag:mag_r5c1, blk:blk_r5c1, dash:dash_r5c1},
  {r:4, c:1, yr:[-8,8], yt:yt_r5c2, yd:0, bg:bg_r5c2, red:red_r5c2, blue:blue_r5c2, mag:mag_r5c2, blk:blk_r5c2, dash:dash_r5c2},
  {r:4, c:2, yr:[-8,8], yt:yt_r5c3, yd:0, bg:bg_r5c3, red:red_r5c3, blue:blue_r5c3, mag:mag_r5c3, blk:blk_r5c3, dash:dash_r5c3}
];

const levelFill = ['#f8f4f8', '#f4ebf2', '#f3e1ec', '#ecd5e0', '#e0cad2'];
const styles = {
  red:  {borderColor: 'rgba(255,30,30,0.5)', borderWidth: 3},
  blue: {borderColor: 'rgba(30,30,255,0.5)', borderWidth: 3},
  mag:  {borderColor: 'rgb(200,0,200)', borderWidth: 1.4},
  blk:  {borderColor: 'rgba(0,0,0,0.5)', borderWidth: 2.6},
  dash: {borderColor: 'rgba(0,0,0,0.42)', borderWidth: 3, borderDash: [8, 4.5]}
};
const tickFont = {family: "'Liberation Serif', 'DejaVu Serif', serif", size: 17};

function toPoints(flat) {
  const pts = [];
  for (let i = 0; i < flat.length; i += 2) pts.push({x: flat[i], y: flat[i + 1]});
  return pts;
}

function fmt(v, d) {
  return (v < 0 ? '\u2212' : '') + Math.abs(v).toFixed(d);
}

// make every line dataset a closed loop (same trick the radar chart uses)
const closedLoops = {
  id: 'closedLoops',
  afterDatasetsUpdate(chart) {
    chart.data.datasets.forEach((ds, i) => {
      const line = chart.getDatasetMeta(i).dataset;
      if (!line) return;
      line._loop = true;
      line._fullLoop = true;
      line._pointsUpdated = false;
      line._segments = undefined;
      line._path = undefined;
    });
  }
};

// panel background, frame and inward ticks on all four sides
const frame = {
  id: 'frame',
  beforeDatasetsDraw(chart) {
    const {ctx, chartArea: a} = chart;
    ctx.save();
    ctx.fillStyle = '#fcfbfd';
    ctx.fillRect(a.left, a.top, a.right - a.left, a.bottom - a.top);
    ctx.restore();
  },
  afterDraw(chart) {
    const {ctx, chartArea: a} = chart;
    const xs = chart.scales.x, ys = chart.scales.y;
    ctx.save();
    ctx.strokeStyle = '#000';
    ctx.lineWidth = 1;
    ctx.beginPath();
    xs.ticks.forEach(t => {
      const px = Math.round(xs.getPixelForValue(t.value)) + 0.5;
      ctx.moveTo(px, a.bottom); ctx.lineTo(px, a.bottom - 6);
      ctx.moveTo(px, a.top); ctx.lineTo(px, a.top + 6);
    });
    ys.ticks.forEach(t => {
      const py = Math.round(ys.getPixelForValue(t.value)) + 0.5;
      ctx.moveTo(a.left, py); ctx.lineTo(a.left + 6, py);
      ctx.moveTo(a.right, py); ctx.lineTo(a.right - 6, py);
    });
    ctx.stroke();
    ctx.lineWidth = 1.25;
    ctx.strokeRect(a.left, a.top, a.right - a.left, a.bottom - a.top);
    ctx.restore();
  }
};

panels.forEach(p => {
  const bottom = p.r === 4;
  const padL = 70, padT = 10;
  const padR = bottom ? 24 : 6;
  const xAxisH = bottom ? 30 : 0;
  const padB = bottom ? 0 : 10;
  const canvas = document.createElement('canvas');
  canvas.width = padL + plotW + padR;
  canvas.height = padT + plotH + xAxisH + padB;
  canvas.style.left = (colLeft[p.c] - padL) + 'px';
  canvas.style.top = (rowTop[p.r] - padT) + 'px';
  document.body.appendChild(canvas);

  const datasets = [];
  p.bg.forEach((level, k) => {
    level.forEach(loop => datasets.push({
      data: toPoints(loop), showLine: true, fill: 'shape', tension: 0.4,
      backgroundColor: levelFill[k], borderColor: 'rgba(255,255,255,0.95)', borderWidth: 0.8, pointRadius: 0
    }));
  });
  ['red', 'blue', 'mag', 'blk', 'dash'].forEach(name => {
    p[name].forEach(loop => datasets.push(Object.assign({
      data: toPoints(loop), showLine: true, fill: false, tension: 0.4, pointRadius: 0
    }, styles[name])));
  });
  // Chart.js paints the first dataset last, so list them top layer first
  datasets.reverse();

  const xt = xTicks[p.c];
  new Chart(canvas, {
    type: 'scatter',
    data: {datasets},
    options: {
      responsive: false,
      animation: false,
      events: [],
      layout: {padding: {left: 0, top: padT, right: padR, bottom: padB}},
      plugins: {legend: {display: false}, tooltip: {enabled: false}},
      elements: {point: {radius: 0}},
      scales: {
        x: {
          type: 'linear', min: xRanges[p.c][0], max: xRanges[p.c][1],
          grid: {display: false, drawTicks: false}, border: {display: false},
          ticks: {display: bottom, autoSkip: false, maxRotation: 0, padding: 5, color: '#000', font: tickFont,
                  callback: v => fmt(v, 0)},
          afterBuildTicks: s => { s.ticks = xt.map(v => ({value: v})); },
          afterFit: s => { s.height = xAxisH; }
        },
        y: {
          type: 'linear', min: p.yr[0], max: p.yr[1],
          grid: {display: false, drawTicks: false}, border: {display: false},
          ticks: {autoSkip: false, padding: 6, color: '#000', font: tickFont,
                  callback: v => fmt(v, p.yd)},
          afterBuildTicks: s => { s.ticks = p.yt.map(v => ({value: v})); },
          afterFit: s => { s.width = padL; }
        }
      }
    },
    plugins: [closedLoops, frame]
  });
});
</script>
</body>
</html>
